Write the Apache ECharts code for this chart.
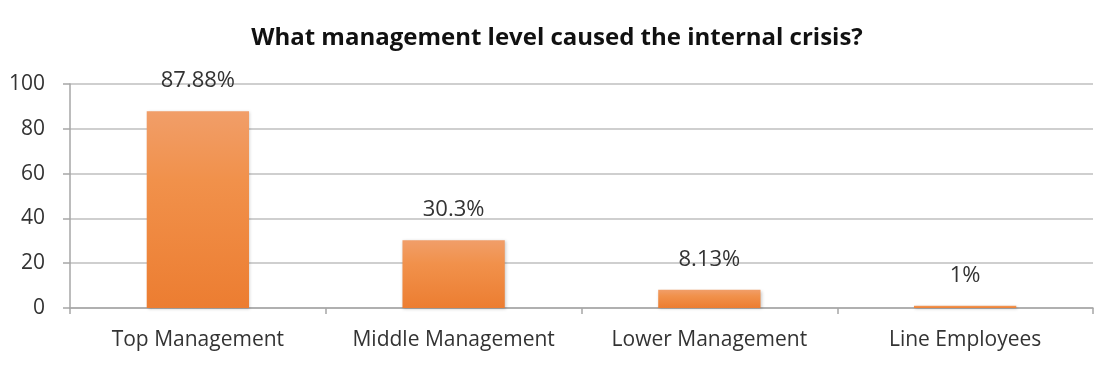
<!DOCTYPE html>
<html><head><meta charset="utf-8">
<script src="https://cdn.jsdelivr.net/npm/echarts@6/dist/echarts.min.js"></script>
<style>html,body{margin:0;padding:0;background:#fff}#c{width:1114px;height:366px}</style>
</head><body><div id="c"></div>
<script>
const title = "What management level caused the internal crisis?";
const categories = ["Top Management", "Middle Management", "Lower Management", "Line Employees"];
const values = [87.88, 30.3, 8.13, 1];
const valueLabels = ["87.88%", "30.3%", "8.13%", "1%"];
const yTicks = [0, 20, 40, 60, 80, 100];

const chart = echarts.init(document.getElementById('c'));
const font = "'Open Sans', 'Liberation Sans', sans-serif";
chart.setOption({
  animation: false,
  title: { text: title, left: 'center', top: 21,
    textStyle: { fontFamily: font, fontWeight: 'bold', fontSize: 24, color: '#111' } },
  grid: { left: 70, right: 21, top: 84, bottom: 58 },
  xAxis: { type: 'category', data: categories,
    axisLine: { lineStyle: { color: '#a6a6a6', width: 1.5 } },
    axisTick: { show: true, interval: 0, length: 6, lineStyle: { color: '#a6a6a6', width: 1.5 } },
    axisLabel: { interval: 0, hideOverlap: false, fontFamily: font, fontSize: 21, color: '#333', margin: 22 } },
  yAxis: { type: 'value', min: yTicks[0], max: yTicks[yTicks.length-1], interval: 20,
    axisLine: { show: true, lineStyle: { color: '#a6a6a6', width: 1.5 } },
    axisTick: { show: true, length: 7, lineStyle: { color: '#a6a6a6', width: 1.5 } },
    splitLine: { lineStyle: { color: '#cfcfcf', width: 2 } },
    axisLabel: { fontFamily: font, fontSize: 21, color: '#333', margin: 25 } },
  series: [{ type: 'bar', data: values, barWidth: '40%',
    itemStyle: { color: new echarts.graphic.LinearGradient(0,0,0,1,[
      {offset:0,color:'#f19e69'},{offset:0.35,color:'#f1914b'},{offset:1,color:'#ec7d31'}]),
      shadowColor: 'rgba(0,0,0,0.2)', shadowBlur: 3, shadowOffsetX: 1, shadowOffsetY: 1 },
    label: { show: true, position: 'top', distance: 19, fontFamily: font, fontSize: 22, color: '#333',
      formatter: p => valueLabels[p.dataIndex] } }]
});
</script></body></html>
